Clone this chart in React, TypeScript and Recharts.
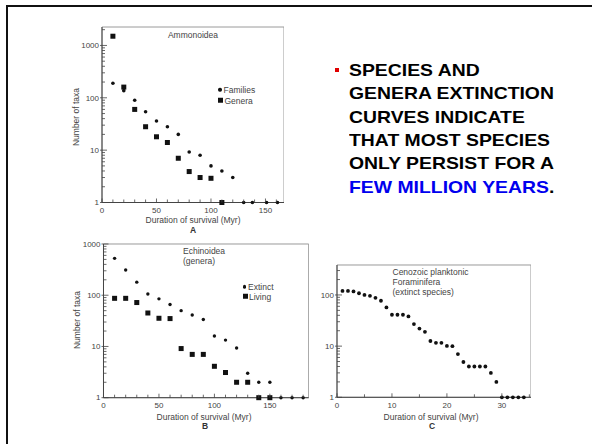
import React from 'react';
import { ScatterChart, Scatter, XAxis, YAxis, ReferenceArea } from 'recharts';

// ---------- Data ----------
const ammoFamiliesX = [10, 20, 30, 40, 50, 60, 70, 80, 90, 100, 110, 120, 130, 138, 151, 161];
const ammoFamiliesY = [190, 137, 90, 54, 36, 28, 20, 9.2, 8, 5, 4, 3, 1, 1, 1, 1];
const ammoGeneraX = [10, 20, 30, 40, 50, 60, 70, 80, 90, 100, 110];
const ammoGeneraY = [1500, 160, 60, 28, 18, 14, 7, 3.9, 3, 2.9, 1];

const echinoExtinctX = [10, 20, 30, 40, 50, 60, 70, 80, 90, 100, 110, 120, 130, 140, 150, 160, 170, 180];
const echinoExtinctY = [525, 310, 180, 106, 85, 66, 50, 41, 33.5, 16, 13.3, 9.3, 3, 2, 2, 1, 1, 1];
const echinoLivingX = [10, 20, 30, 40, 50, 60, 70, 80, 90, 100, 110, 120, 130, 140, 150];
const echinoLivingY = [87, 87, 72, 45, 35.5, 35, 9.1, 7, 7, 4.1, 3.1, 2, 2, 1, 1];

const foramX = [1, 2, 3, 4, 5, 6, 7, 8, 9, 10, 11, 12, 13, 14, 15, 16, 17, 18, 19, 20, 21, 22, 23, 24, 25, 26, 27, 28, 29, 30, 31, 32, 33, 34];
const foramY = [120, 120, 117, 108, 100, 96, 88, 77, 57, 41, 41, 41, 38, 27, 22, 19, 12.6, 11.6, 11.6, 10.1, 10, 7, 4.9, 4, 4, 4, 4, 3, 2, 1, 1, 1, 1, 1];

const majorY = [1, 10, 100, 1000];
const logTicksA = [1, 2, 3, 4, 5, 6, 7, 8, 9, 10, 20, 30, 40, 50, 60, 70, 80, 90, 100, 200, 300, 400, 500, 600, 700, 800, 900, 1000, 2000];
const logTicksB = [1, 2, 3, 4, 5, 6, 7, 8, 9, 10, 20, 30, 40, 50, 60, 70, 80, 90, 100, 200, 300, 400, 500, 600, 700, 800, 900, 1000];
const logTicksC = [1, 2, 3, 4, 5, 6, 7, 8, 9, 10, 20, 30, 40, 50, 60, 70, 80, 90, 100, 200, 300];
const xTicksA = [0, 10, 20, 30, 40, 50, 60, 70, 80, 90, 100, 110, 120, 130, 140, 150, 160];
const xTicksB = [0, 10, 20, 30, 40, 50, 60, 70, 80, 90, 100, 110, 120, 130, 140, 150, 160, 170, 180];
const xTicksC = [0, 5, 10, 15, 20, 25, 30, 35];
const xLabelsAB = [0, 50, 100, 150];
const xLabelsC = [0, 10, 20, 30];

const bulletLines = ['SPECIES AND', 'GENERA EXTINCTION', 'CURVES INDICATE', 'THAT MOST SPECIES', 'ONLY PERSIST FOR A'];
const bulletEmph = 'FEW MILLION YEARS';

const zip = (xs: number[], ys: number[]) => xs.map((x, i) => ({ x, y: ys[i] }));

// ---------- Styling ----------
const FONT = '"Liberation Sans", Arial, Helvetica, sans-serif';
const AX = '#444';
const MARK = '#111';
const SMALL = 8.5;

const makeYTick = () => (props: any) => {
  const { x, y, payload } = props;
  const v = payload.value;
  const major = majorY.includes(v);
  return (
    <g>
      <line x1={major ? x - 2 : x} x2={x + (major ? 5 : 3)} y1={y} y2={y} stroke={AX} strokeWidth={0.8} />
      {major && (
        <text x={x - 3} y={y} dy="0.35em" textAnchor="end" fontSize={8} fill={AX} fontFamily={FONT}>
          {v}
        </text>
      )}
    </g>
  );
};

const makeXTick = (labels: number[]) => (props: any) => {
  const { x, y, payload } = props;
  const v = payload.value;
  const lab = labels.includes(v);
  return (
    <g>
      <line x1={x} x2={x} y1={y} y2={y - (lab ? 4 : 3)} stroke={AX} strokeWidth={0.8} />
      {lab && (
        <text x={x} y={y + 8} dy="0.35em" textAnchor="middle" fontSize={8} fill={AX} fontFamily={FONT}>
          {v}
        </text>
      )}
    </g>
  );
};

const dotShape = (r: number) => (p: any) => <circle cx={p.cx} cy={p.cy} r={r} fill={MARK} />;
const squareShape = (s: number) => (p: any) => (
  <rect x={p.cx - s / 2} y={p.cy - s / 2} width={s} height={s} fill={MARK} />
);

const T = ({ x, y, children, size = SMALL, anchor = 'middle', color = '#444', rotate = false, weight = 400 }: any) => (
  <div
    style={{
      position: 'absolute',
      left: x,
      top: y,
      transform: `translate(${anchor === 'middle' ? '-50%' : anchor === 'end' ? '-100%' : '0'},-50%)${rotate ? ' rotate(-90deg)' : ''}`,
      fontSize: size,
      color,
      whiteSpace: 'nowrap',
      lineHeight: 1,
      fontFamily: FONT,
      fontWeight: weight,
    }}
  >
    {children}
  </div>
);

const LegendItem = ({ x, y, kind, label }: any) => (
  <div style={{ position: 'absolute', left: x - 3, top: y, transform: 'translateY(-50%)', display: 'flex', alignItems: 'center', fontSize: SMALL, color: '#444', fontFamily: FONT, lineHeight: 1, whiteSpace: 'nowrap' }}>
    <span style={{ display: 'inline-block', width: kind === 'dot' ? 3.5 : 5, height: kind === 'dot' ? 3.5 : 5, borderRadius: kind === 'dot' ? '50%' : 0, background: MARK, marginRight: kind === 'dot' ? 2 : 1.5 }} />
    <span>{label}</span>
  </div>
);

type PanelProps = {
  left: number; top: number; width: number; height: number;
  yWidth: number; mTop: number;
  xDomain: [number, number]; yDomain: [number, number];
  xTicks: number[]; xLabels: number[]; yTicks: number[];
  children: React.ReactNode;
};

const Panel = ({ left, top, width, height, yWidth, mTop, xDomain, yDomain, xTicks, xLabels, yTicks, children }: PanelProps) => (
  <div style={{ position: 'absolute', left, top, width, height }}>
    <ScatterChart width={width} height={height} margin={{ top: mTop, right: 0, bottom: 0, left: 0 }}>
      <ReferenceArea x1={xDomain[0]} x2={xDomain[1]} y1={yDomain[0]} y2={yDomain[1]} fill="none" stroke="#9a9a9a" strokeWidth={1} ifOverflow="visible" />
      <XAxis
        type="number"
        dataKey="x"
        domain={xDomain}
        ticks={xTicks}
        interval={0}
        height={20}
        tickSize={0}
        tickMargin={0}
        tickLine={false}
        axisLine={{ stroke: AX, strokeWidth: 1 }}
        tick={makeXTick(xLabels)}
      />
      <YAxis
        type="number"
        dataKey="y"
        scale="log"
        domain={yDomain}
        ticks={yTicks}
        interval={0}
        width={yWidth}
        tickSize={0}
        tickMargin={0}
        tickLine={false}
        axisLine={{ stroke: AX, strokeWidth: 1 }}
        tick={makeYTick()}
      />
      {children}
    </ScatterChart>
  </div>
);

export default function App() {
  return (
    <div style={{ position: 'absolute', left: 0, top: 0, width: 592, height: 444, background: '#fff', overflow: 'hidden', fontFamily: FONT }}>
      {/* slide frame */}
      <div style={{ position: 'absolute', left: 6, top: 5, width: 600, height: 2.3, background: '#111' }} />
      <div style={{ position: 'absolute', left: 6, top: 5, width: 2.3, height: 450, background: '#111' }} />

      {/* Panel A */}
      <Panel left={40} top={20} width={244} height={202.5} yWidth={62} mTop={7}
        xDomain={[0, 167]} yDomain={[1, 2250]} xTicks={xTicksA} xLabels={xLabelsAB} yTicks={logTicksA}>
        <Scatter name="Families" data={zip(ammoFamiliesX, ammoFamiliesY)} shape={dotShape(1.8)} isAnimationActive={false} />
        <Scatter name="Genera" data={zip(ammoGeneraX, ammoGeneraY)} shape={squareShape(5)} isAnimationActive={false} />
      </Panel>
      <T x={193} y={35}>Ammonoidea</T>
      <LegendItem x={221} y={89.5} kind="dot" label="Families" />
      <LegendItem x={221} y={100.7} kind="square" label="Genera" />
      <T x={75.5} y={116.7} rotate>Number of taxa</T>
      <T x={193} y={220}>Duration of survival (Myr)</T>
      <T x={193} y={230} color="#333" weight={700}>A</T>

      {/* Panel B */}
      <Panel left={40} top={236} width={268.7} height={181.7} yWidth={63.5} mTop={8}
        xDomain={[0, 185]} yDomain={[1, 1000]} xTicks={xTicksB} xLabels={xLabelsAB} yTicks={logTicksB}>
        <Scatter name="Extinct" data={zip(echinoExtinctX, echinoExtinctY)} shape={dotShape(1.7)} isAnimationActive={false} />
        <Scatter name="Living" data={zip(echinoLivingX, echinoLivingY)} shape={squareShape(5)} isAnimationActive={false} />
      </Panel>
      <T x={183} y={250.5} anchor="start">Echinoidea</T>
      <T x={183} y={261} anchor="start">(genera)</T>
      <LegendItem x={245.5} y={286.7} kind="dot" label="Extinct" />
      <LegendItem x={245.5} y={296.7} kind="square" label="Living" />
      <T x={77.4} y={320} rotate>Number of taxa</T>
      <T x={204} y={416.7}>Duration of survival (Myr)</T>
      <T x={205} y={426} color="#333" weight={700}>B</T>

      {/* Panel C */}
      <Panel left={300} top={255} width={231} height={162.3} yWidth={37} mTop={10}
        xDomain={[0, 35.3]} yDomain={[1, 385]} xTicks={xTicksC} xLabels={xLabelsC} yTicks={logTicksC}>
        <Scatter name="Extinct species" data={zip(foramX, foramY)} shape={dotShape(1.9)} isAnimationActive={false} />
      </Panel>
      <T x={392.5} y={271.7} anchor="start">Cenozoic planktonic</T>
      <T x={392.5} y={281.8} anchor="start">Foraminifera</T>
      <T x={392.5} y={291.8} anchor="start">(extinct species)</T>
      <T x={431} y={416.7}>Duration of survival (Myr)</T>
      <T x={432} y={426} color="#333" weight={700}>C</T>

      {/* Bullet text */}
      <div style={{ position: 'absolute', left: 335, top: 68, width: 4, height: 4, background: '#e00000' }} />
      <div style={{ position: 'absolute', left: 349, top: 59.2, fontFamily: FONT, fontWeight: 700, fontSize: 17, lineHeight: '23.3px', color: '#000', whiteSpace: 'nowrap', transform: 'scaleX(1.14)', transformOrigin: '0 0' }}>
        {bulletLines.map((l) => (
          <div key={l}>{l}</div>
        ))}
        <div>
          <span style={{ color: '#0000ee' }}>{bulletEmph}</span>.
        </div>
      </div>
    </div>
  );
}
